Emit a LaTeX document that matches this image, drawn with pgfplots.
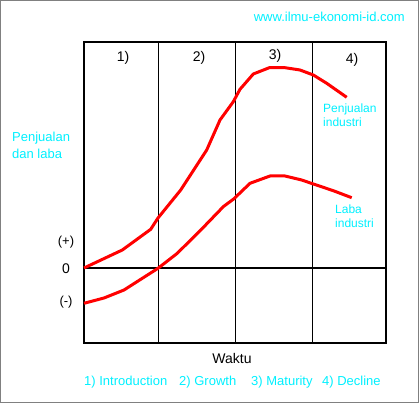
\documentclass[border=0pt]{standalone}
\usepackage{fontspec}
\setmainfont{Liberation Sans}
\usepackage{pgfplots}
\pgfplotsset{compat=1.18}
\definecolor{cy}{RGB}{0,240,255}
\newcommand{\fs}[1]{\fontsize{#1bp}{#1bp}\selectfont}
\begin{document}
\begin{tikzpicture}[x=1bp,y=1bp]
\path[use as bounding box] (0,0) rectangle (419,403);
\draw[line width=1.5bp, gray] (0.75,0.75) rectangle (418.25,402.25);
\begin{axis}[
  at={(84,60)}, anchor=south west,
  scale only axis, width=302bp, height=301bp,
  xmin=0, xmax=302, ymin=-75, ymax=226,
  axis line style={line width=2bp},
  xtick=\empty, ytick=\empty,
  extra x ticks={74,151,228},
  extra x tick labels={},
  extra x tick style={grid=major, major tick length=0pt, major grid style={black, line width=1bp}},
  extra y ticks={0},
  extra y tick labels={},
  extra y tick style={grid=major, major tick length=0pt, major grid style={black, line width=2bp}},
  clip=false,
]
\addplot[red, line width=3bp, line join=round] coordinates {
(0,0) (38.3,18) (66.7,38.7) (74,50) (96.7,78) (122.7,118) (136,148)
(149.3,166.3) (156,178.7) (169.3,194) (185.3,200.3) (201,200.3)
(216,198) (229.3,193) (242.7,184.7) (262.7,170.7)};
\addplot[red, line width=3bp, line join=round] coordinates {
(0,-35.3) (20,-30) (40,-22) (74,-0.3) (93.3,14.7) (120,41.3) (139.3,61.3)
(150,69.3) (166,84.7) (186,92) (201,92) (217.7,88) (229.3,84)
(249.3,77.3) (267.7,70.3)};
\end{axis}
\node[anchor=mid east, text=cy, inner sep=0pt] at (405,384) {\fs{13}www.ilmu-ekonomi-id.com};
\node[anchor=mid, inner sep=0pt] at (123,344) {\fs{14}1)};
\node[anchor=mid, inner sep=0pt] at (199,344) {\fs{14}2)};
\node[anchor=mid, inner sep=0pt] at (275,346) {\fs{14}3)};
\node[anchor=mid, inner sep=0pt] at (352,342) {\fs{14}4)};
\node[anchor=mid west, text=cy, inner sep=0pt] at (323,293) {\fs{12}Penjualan};
\node[anchor=mid west, text=cy, inner sep=0pt] at (323,279) {\fs{12}industri};
\node[anchor=mid west, text=cy, inner sep=0pt] at (335,192) {\fs{12}Laba};
\node[anchor=mid west, text=cy, inner sep=0pt] at (335,178) {\fs{12}industri};
\node[anchor=mid west, text=cy, inner sep=0pt] at (12,264) {\fs{13}Penjualan};
\node[anchor=mid west, text=cy, inner sep=0pt] at (12,247) {\fs{13}dan laba};
\node[anchor=mid, inner sep=0pt] at (66,160) {\fs{13}(+)};
\node[anchor=mid, inner sep=0pt] at (66,132) {\fs{14}0};
\node[anchor=mid, inner sep=0pt] at (66,100) {\fs{13}(-)};
\node[anchor=mid, inner sep=0pt] at (232,42) {\fs{14}Waktu};
\node[anchor=mid west, text=cy, inner sep=0pt] at (84,20) {\fs{13}1) Introduction};
\node[anchor=mid west, text=cy, inner sep=0pt] at (179,20) {\fs{13}2) Growth};
\node[anchor=mid west, text=cy, inner sep=0pt] at (251,20) {\fs{13}3) Maturity};
\node[anchor=mid west, text=cy, inner sep=0pt] at (322,20) {\fs{13}4) Decline};
\end{tikzpicture}
\end{document}
